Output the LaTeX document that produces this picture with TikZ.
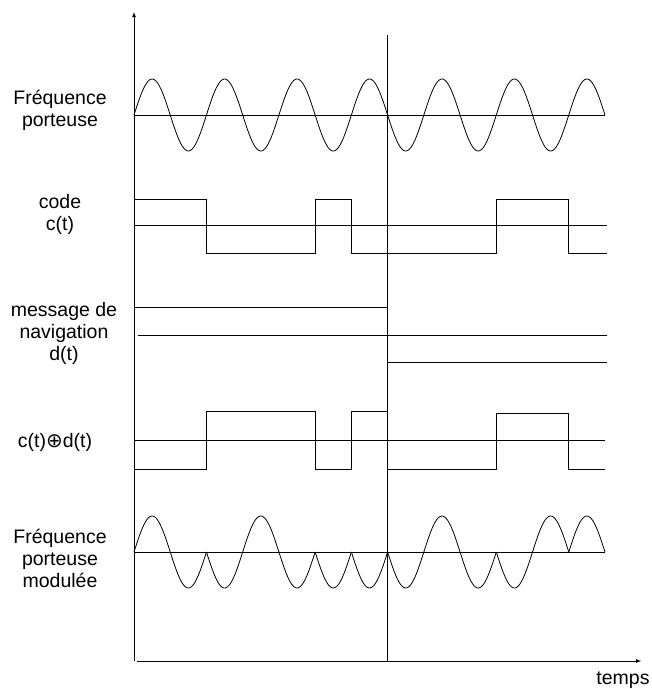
\documentclass[tikz,border=0pt]{standalone}
\usepackage{fontspec}
\setmainfont{Liberation Sans}
\newfontfamily\symfont{DejaVu Sans}
\usepackage{tikz}
\newcommand{\hump}[3]{\pgfmathsetmacro{\kend}{#1+1}
  \draw plot[domain=#1:\kend,samples=30] (\x,{#2-#3*36*sin(180*(\x-#1))});}

\begin{document}
\begin{tikzpicture}[x=1pt,y=-1pt,>=latex,line width=0.8pt,
    lbl/.style={align=center,font=\fontsize{19.5}{22}\selectfont}]
  \useasboundingbox (0,0) rectangle (652,689);
  \node[lbl] (porteuse) at (60,110) {Fréquence\\porteuse};
  \node[lbl] (code) at (60,214) {code\\c(t)};
  \node[lbl] (message) at (64,333) {message de\\navigation\\d(t)};
  \node[lbl] (produit) at (55,442) {c(t){\symfont\fontsize{20}{20}\selectfont ⊕}d(t)};
  \node[lbl] (modulee) at (60,558) {Fréquence\\porteuse\\modulée};
  \node[lbl] (temps) at (623,680) {temps};
  \begin{scope}[shift={(134,0)},x=36.23pt]
    \draw[->] (0,661) -- (0,12);
    \draw[->] (0.07,661) -- (14,661);
    \draw (7,35) -- (7,661);
    \draw (0,115) -- (13,115);
    \draw plot[domain=0:13,samples=300] (\x,{115-36*sin(180*\x)});
    \draw (0,225) -- (13.05,225);
    \draw (0,199) -- (2,199) -- (2,253) -- (5,253) -- (5,199) -- (6,199) -- (6,253)
      -- (10,253) -- (10,199) -- (12,199) -- (12,253) -- (13.05,253);
    \draw (0.1,335) -- (13.05,335);
    \draw (0,307) -- (7,307) -- (7,362) -- (13.05,362);
    \draw (0,440) -- (13,440);
    \draw (0,469) -- (2,469) -- (2,411) -- (5,411) -- (5,469) -- (6,469) -- (6,411)
      -- (7,411) -- (7,469) -- (10,469) -- (10,413) -- (12,413) -- (12,469) -- (13,469);
    \draw (0,552) -- (13,552);
    \foreach \k/\s in {0/1,1/-1,2/-1,3/1,4/-1,5/-1,6/-1,7/-1,8/1,9/-1,10/-1,11/1,12/1}
      {\hump{\k}{552}{\s}}
  \end{scope}
\end{tikzpicture}
\end{document}
